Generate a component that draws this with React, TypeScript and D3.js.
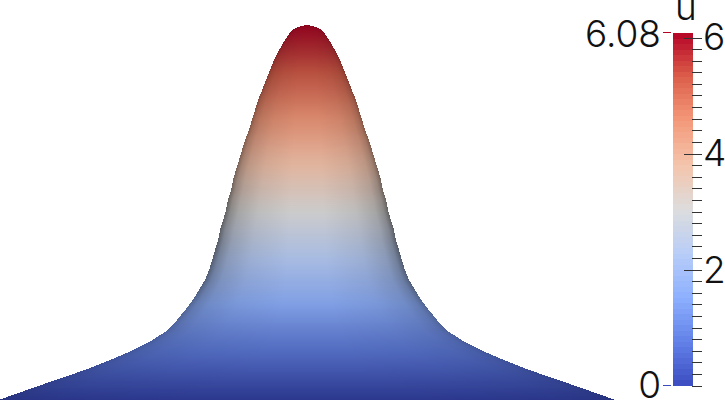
import React from "react";
import * as d3 from "d3";

// Surface silhouette: pixel-read half-width of the warped surface vs. field value u
const profileU = [6.08, 6.065, 6.05, 6.0, 5.84, 5.67, 5.51, 5.35, 5.19, 5.02, 4.86, 4.7, 4.54, 4.38, 4.21, 4.05, 3.89, 3.73, 3.56, 3.4, 3.24, 3.08, 2.91, 2.75, 2.59, 2.43, 2.26, 2.1, 1.94, 1.78, 1.62, 1.45, 1.29, 1.13, 0.97, 0.8, 0.64, 0.48, 0.32, 0.15, 0];
const profileHalfWidth = [0, 5, 9, 15, 22, 28, 33, 37, 41, 45, 49, 52, 55, 58, 62, 65, 68, 71, 74, 76, 79, 81, 84, 87, 89, 92, 95, 98, 102, 108, 114, 122, 130, 139, 154, 174, 197, 222, 251, 281, 307];

// cool-to-warm colour map
const colorPos = [0, 0.125, 0.25, 0.375, 0.5, 0.625, 0.75, 0.875, 1];
const colorVal = ["#3b4cc0", "#6281e8", "#8db0fe", "#b8cdf8", "#dddddd", "#f4c4ac", "#f49a7b", "#dc5f4b", "#b40426"];

// brightness of the surface centre and strength of edge shading vs u
const lightU = [0, 0.5, 1, 1.6, 3, 4, 5, 5.7, 6.08];
const lightVal = [0.74, 0.8, 0.84, 0.9, 0.92, 0.92, 0.86, 0.8, 0.8];
const edgeU = [0, 0.6, 1.2, 1.8, 2.4, 3, 4, 5, 6.08];
const edgeVal = [0.15, 0.22, 0.35, 0.6, 0.72, 0.72, 0.6, 0.45, 0.15];

const majorTicks = [0, 2, 4, 6];
const minorStep = 0.2;
const uMax = 6.08;

const uToRadius = d3.scaleLinear().domain(profileU).range(profileHalfWidth);
const colorScale = d3.scaleLinear<string>().domain(colorPos.map((p) => p * uMax)).range(colorVal).interpolate(d3.interpolateRgb);
const light = d3.scaleLinear().domain(lightU).range(lightVal);
const edge = d3.scaleLinear().domain(edgeU).range(edgeVal);

const FONT = "Inter, 'Liberation Sans', Arial, sans-serif";

export default function App() {
  const ySurf = d3.scaleLinear().domain([0, uMax]).range([399.5, 25]);
  const xSurf = d3.scaleLinear().domain([-307, 307]).range([0, 614]);
  const yBar = d3.scaleLinear().domain([0, 6]).range([385.5, 37.5]);
  const rows = d3.range(25, 400).map((y) => {
    const u = ySurf.invert(y + 0.5);
    const r = uToRadius(Math.min(uMax, Math.max(0, u)));
    const c = d3.rgb(colorScale(Math.max(0, u)));
    const k = light(u);
    return { y, x0: xSurf(-r), x1: xSurf(r), fill: d3.rgb(c.r * k, c.g * k, c.b * k).formatHex(), o: edge(u) };
  });
  const bandCount = 64;
  const bands = d3.range(bandCount).map((i) => ({ lo: (i / bandCount) * uMax, hi: ((i + 1) / bandCount) * uMax }));
  const ticks = d3.range(0, 6.001, minorStep);
  return (
    <svg width={725} height={400} style={{ position: "fixed", left: 0, top: 0, background: "#fff" }}>
      <defs>
        <linearGradient id="edgeShade" x1="0" x2="1" y1="0" y2="0">
          <stop offset="0" stopColor="#000" stopOpacity={0.72} />
          <stop offset="0.03" stopColor="#000" stopOpacity={0.45} />
          <stop offset="0.08" stopColor="#000" stopOpacity={0.26} />
          <stop offset="0.2" stopColor="#000" stopOpacity={0.1} />
          <stop offset="0.4" stopColor="#000" stopOpacity={0} />
          <stop offset="0.6" stopColor="#000" stopOpacity={0} />
          <stop offset="0.8" stopColor="#000" stopOpacity={0.1} />
          <stop offset="0.92" stopColor="#000" stopOpacity={0.26} />
          <stop offset="0.97" stopColor="#000" stopOpacity={0.45} />
          <stop offset="1" stopColor="#000" stopOpacity={0.72} />
        </linearGradient>
      </defs>
      <g shapeRendering="crispEdges">
        {rows.map((r) => (
          <g key={r.y}>
            <rect x={r.x0} y={r.y} width={r.x1 - r.x0} height={1} fill={r.fill} />
            <rect x={r.x0} y={r.y} width={r.x1 - r.x0} height={1} fill="url(#edgeShade)" opacity={r.o} />
          </g>
        ))}
        {bands.map((b, i) => (
          <rect key={i} x={673} width={20} y={385.5 - ((i + 1) / bandCount) * 353} height={353 / bandCount + 0.5} fill={colorScale((b.lo + b.hi) / 2)} />
        ))}
        {ticks.map((t) => {
          const major = majorTicks.some((m) => Math.abs(m - t) < 1e-6);
          return <line key={t} x1={major && t > 0 ? 684 : 692} x2={702} y1={Math.round(yBar(t)) + 0.5} y2={Math.round(yBar(t)) + 0.5} stroke="#333" strokeWidth={1} />;
        })}
        <line x1={663} x2={671} y1={32.5} y2={32.5} stroke={colorVal[8]} />
        <line x1={663} x2={671} y1={385.5} y2={385.5} stroke={colorVal[0]} />
      </g>
      <g fontFamily={FONT} fontSize={37} fontWeight={340} fill="#111">
        <text x={661} y={47} textAnchor="end">6.08</text>
        <text x={686} y={20} textAnchor="middle">u</text>
        <text x={703} y={50}>6</text>
        <text x={703} y={166}>4</text>
        <text x={703} y={283}>2</text>
        <text x={661} y={398} textAnchor="end">0</text>
      </g>
    </svg>
  );
}
